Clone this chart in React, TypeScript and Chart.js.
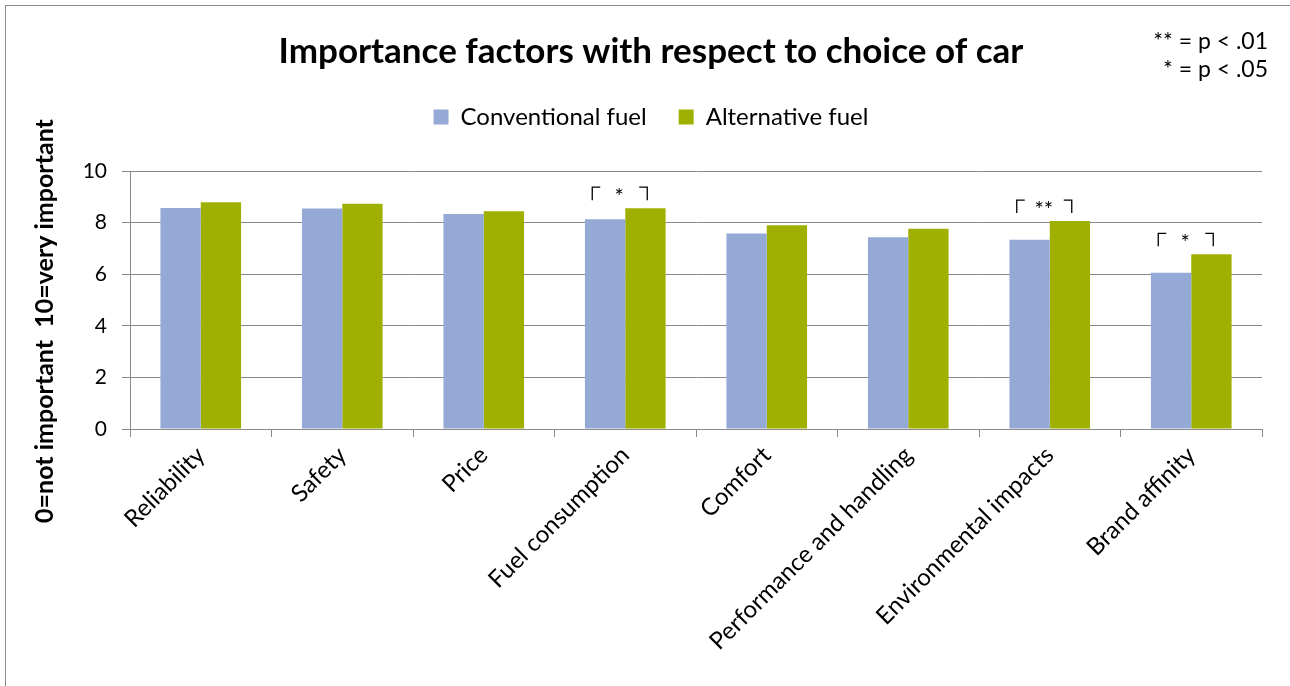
import React, { useEffect, useRef } from 'react';
import { Chart, registerables } from 'chart.js';

Chart.register(...registerables);

const categories = [
  'Reliability',
  'Safety',
  'Price',
  'Fuel consumption',
  'Comfort',
  'Performance and handling',
  'Environmental impacts',
  'Brand affinity',
];
const seriesNames = ['Conventional fuel', 'Alternative fuel'];
const conventionalFuel = [8.57, 8.55, 8.33, 8.13, 7.58, 7.43, 7.34, 6.06];
const alternativeFuel = [8.79, 8.73, 8.44, 8.56, 7.9, 7.76, 8.06, 6.77];
const significance = ['', '', '', '*', '', '', '**', '*'];
const noteLines = ['** = p < .01', '* = p < .05'];
const titleText = 'Importance factors with respect to choice of car';
const yAxisTitle = '0=not important  10=very important';
const yMin = 0;
const yMax = 10;
const yStep = 2;

const FONT = 'Lato, "Open Sans", sans-serif';
const BLUE = '#95a9d6';
const GREEN = '#a0b000';
const GRID = '#8a8a8a';

const annotationPlugin = {
  id: 'annotationPlugin',
  afterDatasetsDraw(chart: any) {
    const ctx = chart.ctx;
    const m0 = chart.getDatasetMeta(0);
    const m1 = chart.getDatasetMeta(1);
    ctx.save();
    significance.forEach((s, i) => {
      if (!s) return;
      const b0 = m0.data[i];
      const b1 = m1.data[i];
      const left = b0.x - b0.width / 2;
      const right = b1.x + b1.width / 2;
      const c = (left + right) / 2;
      const top = Math.min(b0.y, b1.y);
      const yT = top - 21;
      const yB = top - 8;
      const xL = c - 33;
      const xR = c + 22;
      ctx.strokeStyle = '#000';
      ctx.lineWidth = 1.3;
      ctx.beginPath();
      ctx.moveTo(xL, yB);
      ctx.lineTo(xL, yT);
      ctx.lineTo(xL + 8, yT);
      ctx.moveTo(xR - 8, yT);
      ctx.lineTo(xR, yT);
      ctx.lineTo(xR, yB);
      ctx.stroke();
      ctx.fillStyle = '#000';
      ctx.font = `22px ${FONT}`;
      ctx.textAlign = 'center';
      ctx.textBaseline = 'alphabetic';
      ctx.fillText(s, c - 6, yT + 17);
    });
    ctx.restore();
  },
  afterDraw(chart: any) {
    const ctx = chart.ctx;
    ctx.save();
    ctx.fillStyle = '#000';
    ctx.font = `23px ${FONT}`;
    ctx.textAlign = 'right';
    ctx.textBaseline = 'middle';
    ctx.fillText(noteLines[0], 1268, 42);
    ctx.fillText(noteLines[1], 1268, 70);
    ctx.translate(45, 321);
    ctx.rotate(-Math.PI / 2);
    ctx.textAlign = 'center';
    ctx.font = `bold 25px ${FONT}`;
    ctx.fillText(yAxisTitle, 0, 0);
    ctx.restore();
  },
};

export default function App() {
  const ref = useRef<HTMLCanvasElement | null>(null);
  useEffect(() => {
    if (!ref.current) return;
    const chart = new Chart(ref.current, {
      type: 'bar',
      data: {
        labels: categories,
        datasets: [
          {
            label: seriesNames[0],
            data: conventionalFuel,
            backgroundColor: BLUE,
            borderWidth: 0,
            categoryPercentage: 0.57,
            barPercentage: 1,
          },
          {
            label: seriesNames[1],
            data: alternativeFuel,
            backgroundColor: GREEN,
            borderWidth: 0,
            categoryPercentage: 0.57,
            barPercentage: 1,
          },
        ],
      },
      options: {
        animation: false,
        responsive: false,
        maintainAspectRatio: false,
        devicePixelRatio: 1,
        layout: { padding: { left: 40, right: 28, top: 0, bottom: 0 } },
        plugins: {
          tooltip: { enabled: false },
          title: {
            display: true,
            text: titleText,
            color: '#000',
            font: { family: FONT, size: 35, weight: 'bold', lineHeight: 1.2 },
            padding: { top: 31, bottom: 0 },
          },
          subtitle: {
            display: true,
            text: '',
            font: { family: FONT, size: 10, lineHeight: 1 },
            padding: { top: 22, bottom: 0 },
            weight: 500,
          } as any,
          legend: {
            position: 'top',
            labels: {
              boxWidth: 15,
              boxHeight: 15,
              padding: 32,
              color: '#000',
              font: { family: FONT, size: 24 },
            },
          },
        },
        scales: {
          x: {
            grid: { offset: true, drawOnChartArea: false, tickLength: 8, color: GRID },
            border: { color: GRID },
            ticks: {
              minRotation: 45,
              maxRotation: 45,
              autoSkip: false,
              padding: 4,
              color: '#000',
              font: { family: FONT, size: 24 },
            },
            afterFit: (s: any) => {
              s.height = 257;
            },
          },
          y: {
            min: yMin,
            max: yMax,
            ticks: {
              stepSize: yStep,
              padding: 15,
              color: '#000',
              font: { family: FONT, size: 21 },
            },
            grid: { color: GRID, tickLength: 8 },
            border: { color: GRID },
            afterFit: (s: any) => {
              s.width = 90;
            },
          },
        },
      },
      plugins: [annotationPlugin],
    });
    return () => chart.destroy();
  }, []);

  return (
    <div
      style={{
        position: 'fixed',
        left: 0,
        top: 0,
        width: 1290,
        height: 686,
        overflow: 'hidden',
        background: '#fff',
      }}
    >
      <div
        style={{
          position: 'absolute',
          left: 5,
          top: 5,
          width: 1300,
          height: 700,
          border: '1px solid #8c8c8c',
          boxSizing: 'border-box',
        }}
      />
      <canvas ref={ref} width={1290} height={686} style={{ position: 'absolute', left: 0, top: 0 }} />
    </div>
  );
}
